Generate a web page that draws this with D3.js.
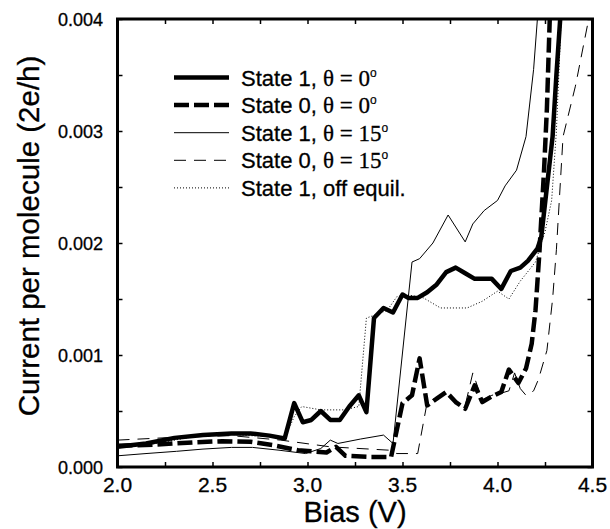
<!DOCTYPE html>
<html>
<head>
<meta charset="utf-8">
<script src="https://cdn.jsdelivr.net/npm/d3@7"></script>
<style>
body { margin: 0; background: #fff; }
text { fill: black; stroke: black; stroke-width: 0.3px; }
</style>
</head>
<body>
<div class="chart"></div>
<script>
// values (current in units of 2e/h)
const biasS1T0 = [2.0, 2.15, 2.3, 2.45, 2.6, 2.7, 2.8, 2.88, 2.93, 2.975, 3.02, 3.07, 3.12, 3.17, 3.22, 3.27, 3.31, 3.35, 3.40, 3.45, 3.50, 3.53, 3.58, 3.63, 3.68, 3.73, 3.78, 3.83, 3.88, 3.97, 4.02, 4.07, 4.12, 4.16, 4.21, 4.23, 4.26, 4.29, 4.31, 4.33]
const currS1T0 = [0.00018, 0.00021, 0.00026, 0.000285, 0.0003, 0.0003, 0.00028, 0.000255, 0.00057, 0.0004, 0.00042, 0.0005, 0.00042, 0.00042, 0.00054, 0.00064, 0.00049, 0.00133, 0.00142, 0.00138, 0.00154, 0.00151, 0.00151, 0.00156, 0.00163, 0.00174, 0.00178, 0.00173, 0.00168, 0.00168, 0.00159, 0.00175, 0.00178, 0.00184, 0.00195, 0.00205, 0.0025, 0.00295, 0.0035, 0.004]

const biasS0T0 = [2.0, 2.2, 2.4, 2.55, 2.7, 2.82, 2.95, 3.02, 3.10, 3.15, 3.20, 3.33, 3.44, 3.50, 3.55, 3.59, 3.63, 3.68, 3.73, 3.78, 3.83, 3.88, 3.92, 3.97, 4.02, 4.06, 4.11, 4.15, 4.18, 4.20, 4.22, 4.245, 4.26, 4.275]
const currS0T0 = [0.00019, 0.0002, 0.00022, 0.00023, 0.000225, 0.000195, 0.00015, 0.00014, 0.00013, 0.00018, 0.0001, 0.00009, 0.00009, 0.00057, 0.00064, 0.00097, 0.00055, 0.00061, 0.00067, 0.00058, 0.00052, 0.00073, 0.00058, 0.00063, 0.00067, 0.00087, 0.00075, 0.00088, 0.0011, 0.0014, 0.0019, 0.00265, 0.0032, 0.004]

const biasS1T15 = [2.0, 2.15, 2.31, 2.45, 2.6, 2.71, 2.85, 2.99, 3.07, 3.12, 3.16, 3.28, 3.40, 3.45, 3.55, 3.59, 3.66, 3.74, 3.83, 3.87, 3.93, 4.0, 4.04, 4.10, 4.15, 4.19, 4.21]
const currS1T15 = [0.0001, 0.00012, 0.00014, 0.00016, 0.000175, 0.000175, 0.00015, 0.00012, 0.000165, 0.00024, 0.00021, 0.00025, 0.000285, 0.00021, 0.00183, 0.00186, 0.002, 0.00225, 0.00201, 0.00217, 0.00229, 0.00238, 0.00251, 0.00265, 0.00295, 0.00355, 0.004]

const biasS0T15 = [2.0, 2.3, 2.6, 2.86, 3.12, 3.43, 3.47, 3.58, 3.63, 3.68, 3.73, 3.78, 3.83, 3.87, 3.92, 3.97, 4.02, 4.06, 4.09, 4.12, 4.15, 4.19, 4.215, 4.26, 4.29, 4.31, 4.345, 4.41, 4.48]
const currS0T15 = [0.00024, 0.000265, 0.00028, 0.00024, 0.00018, 0.00015, 0.00012, 0.00012, 0.00058, 0.00062, 0.00066, 0.00058, 0.00055, 0.00084, 0.0006, 0.00064, 0.00066, 0.00068, 0.00084, 0.0007, 0.00064, 0.00068, 0.00078, 0.00104, 0.0015, 0.00194, 0.00295, 0.0034, 0.004]

const biasS1Off = [2.0, 2.2, 2.4, 2.6, 2.8, 2.88, 2.93, 2.97, 3.07, 3.19, 3.27, 3.31, 3.36, 3.42, 3.47, 3.52, 3.61, 3.70, 3.79, 3.84, 3.92, 4.0, 4.06, 4.12, 4.20, 4.25, 4.285, 4.31, 4.335]
const currS1Off = [0.00017, 0.00021, 0.00027, 0.00029, 0.00027, 0.00025, 0.00045, 0.00054, 0.00051, 0.00051, 0.00054, 0.00133, 0.00136, 0.0014, 0.00152, 0.00154, 0.00151, 0.00142, 0.00142, 0.00142, 0.00148, 0.00157, 0.0015, 0.00166, 0.00183, 0.0021, 0.00238, 0.003, 0.004]

const legendLabels = ["State 1, ", "State 0, ", "State 1, ", "State 0, ", "State 1, off equil."]
const legendAngles = ["0", "0", "15", "15", null]
const xLabels = [2.0, 2.5, 3.0, 3.5, 4.0, 4.5]
const yLabels = [0.000, 0.001, 0.002, 0.003, 0.004]

const width = 610, height = 529
const plot = {left: 117.5, right: 592.5, top: 19, bottom: 467}

const svg = d3.select(".chart").append("svg")
	.attr("width", width)
	.attr("height", height)

const xScale = d3.scaleLinear().domain([2.0, 4.5]).range([plot.left, plot.right])
const yScale = d3.scaleLinear().domain([0, 0.004]).range([plot.bottom, plot.top])

svg.append("clipPath").attr("id", "clip")
	.append("rect")
	.attr("x", plot.left).attr("y", plot.top)
	.attr("width", plot.right - plot.left).attr("height", plot.bottom - plot.top)

// series styles
const series = [
	{bias: biasS1T0, curr: currS1T0, w: 4.5, dash: null},
	{bias: biasS0T0, curr: currS0T0, w: 4.5, dash: "15,5"},
	{bias: biasS1T15, curr: currS1T15, w: 1, dash: null},
	{bias: biasS0T15, curr: currS0T15, w: 1, dash: "12,8"},
	{bias: biasS1Off, curr: currS1Off, w: 1, dash: "1,2"}
]

const line = d3.line()
	.x(d => xScale(d[0]))
	.y(d => yScale(d[1]))

const lines = svg.append("g").attr("clip-path", "url(#clip)")
series.forEach(s => {
	lines.append("path")
		.datum(d3.zip(s.bias, s.curr))
		.attr("d", line)
		.attr("fill", "none")
		.attr("stroke", "black")
		.attr("stroke-width", s.w)
		.attr("stroke-dasharray", s.dash)
		.attr("stroke-linejoin", "round")
})

// inward ticks on all four sides
const xTicks = d3.range(2.0, 4.51, 0.25)
const yTicks = d3.range(0, 0.00401, 0.0005)

svg.append("g")
	.attr("transform", `translate(0,${plot.bottom})`)
	.call(d3.axisBottom(xScale).tickValues(xTicks).tickSize(-5).tickFormat(""))
svg.append("g")
	.attr("transform", `translate(0,${plot.top})`)
	.call(d3.axisTop(xScale).tickValues(xTicks).tickSize(-5).tickFormat(""))
svg.append("g")
	.attr("transform", `translate(${plot.left},0)`)
	.call(d3.axisLeft(yScale).tickValues(yTicks).tickSize(-5).tickFormat(""))
svg.append("g")
	.attr("transform", `translate(${plot.right},0)`)
	.call(d3.axisRight(yScale).tickValues(yTicks).tickSize(-5).tickFormat(""))
svg.selectAll(".domain").remove()
svg.selectAll(".tick line").attr("stroke", "black").attr("stroke-width", 1.5)

svg.append("rect")
	.attr("x", plot.left).attr("y", plot.top)
	.attr("width", plot.right - plot.left).attr("height", plot.bottom - plot.top)
	.attr("fill", "none")
	.attr("stroke", "black")
	.attr("stroke-width", 3)

// tick labels
svg.append("g").selectAll("text")
	.data(xLabels)
	.enter()
	.append("text")
	.attr("x", d => xScale(d))
	.attr("y", 491.5)
	.attr("text-anchor", "middle")
	.style("font-family", "Arial, 'Liberation Sans', sans-serif")
	.style("font-size", "21px")
	.text(d => d3.format(".1f")(d))

svg.append("g").selectAll("text")
	.data(yLabels)
	.enter()
	.append("text")
	.attr("x", 103)
	.attr("y", d => yScale(d) + 6.5)
	.attr("text-anchor", "end")
	.style("font-family", "Arial, 'Liberation Sans', sans-serif")
	.style("font-size", "18px")
	.text(d => d3.format(".3f")(d))

// axis titles
svg.append("text")
	.attr("x", 355)
	.attr("y", 522)
	.attr("text-anchor", "middle")
	.style("font-family", "Arial, 'Liberation Sans', sans-serif")
	.style("font-size", "29px")
	.text("Bias (V)")

svg.append("text")
	.attr("transform", "translate(39,236) rotate(-90)")
	.attr("text-anchor", "middle")
	.style("font-family", "Arial, 'Liberation Sans', sans-serif")
	.style("font-size", "29.5px")
	.text("Current per molecule (2e/h)")

// legend
const legend = svg.append("g")
series.forEach((s, i) => {
	const ly = 77.5 + i * 27.6
	legend.append("line")
		.attr("x1", 174).attr("x2", 229)
		.attr("y1", ly).attr("y2", ly)
		.attr("stroke", "black")
		.attr("stroke-width", s.w)
		.attr("stroke-dasharray", s.dash)
	const t = legend.append("text")
		.attr("x", 241)
		.attr("y", ly + 8)
		.style("font-family", "Arial, 'Liberation Sans', sans-serif")
		.style("font-size", "22px")
	t.append("tspan").text(legendLabels[i])
	if (legendAngles[i] != null) {
		t.append("tspan")
			.style("font-family", "'Liberation Serif', 'Times New Roman', serif")
			.style("font-size", "23px")
			.text("\u03b8 = " + legendAngles[i])
		t.append("tspan")
			.attr("dy", -9)
			.style("font-size", "12px")
			.style("stroke-width", "0.2px")
			.text("o")
	}
})
</script>
</body>
</html>
